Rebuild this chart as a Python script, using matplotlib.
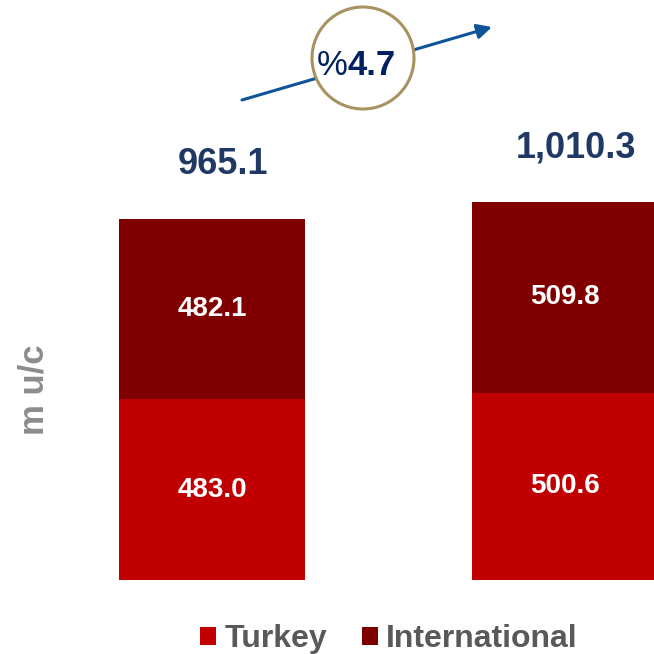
import matplotlib
matplotlib.use("Agg")
import matplotlib.pyplot as plt
from matplotlib.patches import Circle
import numpy as np

plt.rcParams['font.family'] = ['Liberation Sans', 'DejaVu Sans']

# Revenue split, million units of currency
periods = ["prev", "curr"]
turkey = [483.0, 500.6]
international = [482.1, 509.8]
totals = [965.1, 1010.3]
growth_label = "4.7"

RED = "#C00000"
DARK_RED = "#800000"
NAVY = "#1F3864"

fig = plt.figure(figsize=(6.54, 6.54), dpi=100)
ax = fig.add_axes([0, 74 / 654, 1, 580 / 654])

x = np.arange(len(periods))
width = 0.527
b1 = ax.bar(x, turkey, width, color=RED, label="Turkey")
b2 = ax.bar(x, international, width, bottom=turkey, color=DARK_RED, label="International")

for i in range(len(x)):
    ax.text(x[i], turkey[i] / 2, f"{turkey[i]:,.1f}", ha="center", va="center",
            color="white", fontsize=20, fontweight="bold")
    ax.text(x[i], turkey[i] + international[i] / 2, f"{international[i]:,.1f}",
            ha="center", va="center", color="white", fontsize=20, fontweight="bold")
    ax.text(x[i] + 0.03, totals[i] + 145, f"{totals[i]:,.1f}", ha="center", va="center",
            color=NAVY, fontsize=26, fontweight="bold", clip_on=False)

ax.set_xlim(-212 / 353, (654 - 212) / 353)
ax.set_ylim(0, 580 / 0.3741)
ax.axis("off")

fig.text(34 / 654, 1 - 390 / 654, "m u/c", rotation=90, ha="center", va="center",
         color="#8C8C8C", fontsize=25, fontweight="bold")

# growth arrow with badge
ax.annotate("", xy=(492, 654 - 27), xycoords="figure pixels",
            xytext=(242, 654 - 100), textcoords="figure pixels",
            arrowprops=dict(arrowstyle="-|>", color="#0F5499", lw=2.2,
                            mutation_scale=22, shrinkA=0, shrinkB=0))
badge = Circle((363 / 654, 1 - 58 / 654), 51 / 654, transform=fig.transFigure,
               facecolor="white", edgecolor="#A8925F", lw=2.2, zorder=5)
fig.patches.append(badge)
fig.text(348 / 654, 1 - 75 / 654, "%", ha="right", va="baseline",
         color="#002060", fontsize=25, zorder=6)
fig.text(348 / 654, 1 - 75 / 654, growth_label, ha="left", va="baseline",
         color="#002060", fontsize=25, fontweight="bold", zorder=6)

leg = fig.legend(handles=[b1, b2], loc="center", bbox_to_anchor=(389 / 654, 15 / 654),
                 ncol=2, frameon=False, handlelength=0.5, handleheight=0.5,
                 handletextpad=0.25, columnspacing=1.1, borderpad=0,
                 prop={"size": 23, "weight": "bold"})
for t in leg.get_texts():
    t.set_color("#595959")

fig.savefig("out.png", dpi=100)
